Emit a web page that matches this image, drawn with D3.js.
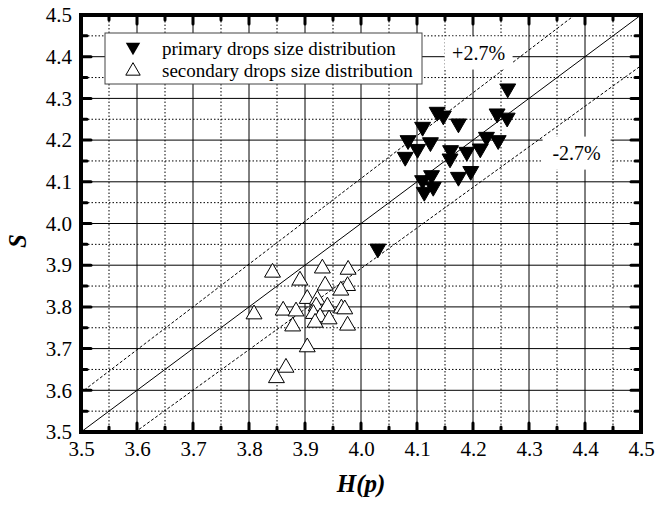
<!DOCTYPE html>
<html><head><meta charset="utf-8">
<script src="https://cdn.jsdelivr.net/npm/d3@7"></script>
<style>body{margin:0;background:#fff}svg{display:block}</style>
</head><body>
<script>
const xTicks = [3.5,3.6,3.7,3.8,3.9,4.0,4.1,4.2,4.3,4.4,4.5];
const yTicks = [3.5,3.6,3.7,3.8,3.9,4.0,4.1,4.2,4.3,4.4,4.5];
const primaryX = [4.262,4.136,4.147,4.174,4.243,4.261,4.110,4.084,4.124,4.101,4.079,4.224,4.245,4.213,4.189,4.160,4.159,4.196,4.174,4.126,4.110,4.129,4.113,4.030];
const primaryY = [4.320,4.264,4.255,4.236,4.260,4.250,4.228,4.196,4.191,4.175,4.156,4.204,4.196,4.176,4.168,4.172,4.152,4.122,4.108,4.112,4.100,4.084,4.072,3.936];
const secondaryX = [3.842,3.931,3.977,3.891,3.936,3.976,3.964,3.904,3.922,3.920,3.940,3.965,3.971,3.861,3.884,3.809,3.915,3.927,3.943,3.918,3.878,3.976,3.904,3.866,3.849];
const secondaryY = [3.886,3.896,3.893,3.867,3.855,3.854,3.843,3.823,3.821,3.805,3.805,3.800,3.798,3.795,3.793,3.786,3.787,3.779,3.774,3.766,3.757,3.759,3.707,3.658,3.633];
const bandFactors = [1.027, 0.973];
const bandLabels = ["+2.7%", "-2.7%"];
const legendLabels = ["primary drops size distribution", "secondary drops size distribution"];

const FONT = "Liberation Serif";
const W = 656, H = 508;
const svg = d3.select("body").append("svg").attr("width", W).attr("height", H)
  .attr("font-family", FONT);
const x = d3.scaleLinear().domain([3.5,4.5]).range([81,641]);
const y = d3.scaleLinear().domain([3.5,4.5]).range([432,15]);
const x0 = x.range()[0], x1 = x.range()[1], y0 = y.range()[0], y1 = y.range()[1];

svg.append("defs").append("clipPath").attr("id","clip")
  .append("rect").attr("x",x0).attr("y",y1).attr("width",x1-x0).attr("height",y0-y1);

const minor = d3.range(3.55, 4.5, 0.1);
const g = svg.append("g");
g.selectAll(".mvx").data(minor).join("line")
  .attr("x1",d=>x(d)).attr("x2",d=>x(d)).attr("y1",y0).attr("y2",y1)
  .attr("stroke","#000").attr("stroke-width",1).attr("stroke-dasharray","1.5,2");
g.selectAll(".mhy").data(minor).join("line")
  .attr("y1",d=>y(d)).attr("y2",d=>y(d)).attr("x1",x0).attr("x2",x1)
  .attr("stroke","#000").attr("stroke-width",1).attr("stroke-dasharray","1.5,2");
g.selectAll(".vx").data(xTicks).join("line")
  .attr("x1",d=>x(d)).attr("x2",d=>x(d)).attr("y1",y0).attr("y2",y1)
  .attr("stroke","#000").attr("stroke-width",1);
g.selectAll(".hy").data(yTicks).join("line")
  .attr("y1",d=>y(d)).attr("y2",d=>y(d)).attr("x1",x0).attr("x2",x1)
  .attr("stroke","#000").attr("stroke-width",1);

const lines = svg.append("g").attr("clip-path","url(#clip)");
const line = d3.line().x(d=>x(d[0])).y(d=>y(d[1]));
lines.append("path").attr("d", line([[3.5,3.5],[4.5,4.5]])).attr("stroke","#000").attr("stroke-width",1).attr("fill","none");
bandFactors.forEach(f=>{
  lines.append("path").attr("d", line([[3.3,3.3*f],[4.7,4.7*f]]))
    .attr("stroke","#000").attr("stroke-width",1).attr("fill","none").attr("stroke-dasharray","3,2");
});

const bandPos = [[4.21,4.41],[4.385,4.17]];
bandLabels.forEach((t,i)=>{
  const cx = x(bandPos[i][0]), cy = y(bandPos[i][1]);
  svg.append("rect").attr("x",cx-34).attr("y",cy-16).attr("width",68).attr("height",33).attr("fill","#fff");
  svg.append("text").attr("x",cx).attr("y",cy).attr("dy","0.35em").attr("text-anchor","middle")
    .attr("font-family",FONT).attr("font-size",20).text(t);
});

const tri = d3.symbol().type(d3.symbolTriangle).size(110);
svg.append("g").selectAll("path").data(secondaryX.map((v,i)=>[v,secondaryY[i]])).join("path")
  .attr("d",tri).attr("transform",d=>`translate(${x(d[0])},${y(d[1])+1.5})`)
  .attr("fill","#fff").attr("stroke","#000").attr("stroke-width",1);
svg.append("g").selectAll("path").data(primaryX.map((v,i)=>[v,primaryY[i]])).join("path")
  .attr("d",tri).attr("transform",d=>`translate(${x(d[0])},${y(d[1])-1.5}) rotate(180)`)
  .attr("fill","#000").attr("stroke","#000").attr("stroke-width",1);

const lg = svg.append("g");
lg.append("rect").attr("x",105).attr("y",33).attr("width",317).attr("height",51)
  .attr("fill","#fff").attr("stroke","#444").attr("stroke-width",1);
const legSym = d3.symbol().type(d3.symbolTriangle).size(90);
lg.append("path").attr("d",legSym).attr("transform","translate(133,47) rotate(180)").attr("fill","#000");
lg.append("path").attr("d",legSym).attr("transform","translate(133,71)").attr("fill","#fff").attr("stroke","#000");
legendLabels.forEach((t,i)=>{
  lg.append("text").attr("x",162).attr("y",48+i*22).attr("dy","0.35em")
    .attr("font-family",FONT).attr("font-size",19).text(t);
});

const fr = svg.append("g").attr("stroke","#000").attr("stroke-width",3).attr("stroke-linecap","round");
xTicks.slice(1,-1).forEach(v=>{
  fr.append("line").attr("x1",x(v)).attr("x2",x(v)).attr("y1",y0).attr("y2",y0-9);
  fr.append("line").attr("x1",x(v)).attr("x2",x(v)).attr("y1",y1).attr("y2",y1+9);
});
minor.forEach(v=>{
  fr.append("line").attr("x1",x(v)).attr("x2",x(v)).attr("y1",y0).attr("y2",y0-5);
  fr.append("line").attr("x1",x(v)).attr("x2",x(v)).attr("y1",y1).attr("y2",y1+5);
  fr.append("line").attr("y1",y(v)).attr("y2",y(v)).attr("x1",x0).attr("x2",x0+6);
  fr.append("line").attr("y1",y(v)).attr("y2",y(v)).attr("x1",x1).attr("x2",x1-6);
});
yTicks.slice(1,-1).forEach(v=>{
  fr.append("line").attr("y1",y(v)).attr("y2",y(v)).attr("x1",x0).attr("x2",x0+10);
  fr.append("line").attr("y1",y(v)).attr("y2",y(v)).attr("x1",x1).attr("x2",x1-10);
});
svg.append("rect").attr("x",x0).attr("y",y1).attr("width",x1-x0).attr("height",y0-y1)
  .attr("fill","none").attr("stroke","#000").attr("stroke-width",4);

const xAxis = d3.axisBottom(x).tickValues(xTicks).tickFormat(d3.format(".1f")).tickSize(0).tickPadding(9);
const xa = svg.append("g").attr("transform",`translate(0,${y0})`).call(xAxis);
const yAxis = d3.axisLeft(y).tickValues(yTicks).tickFormat(d3.format(".1f")).tickSize(0).tickPadding(9);
const ya = svg.append("g").attr("transform",`translate(${x0},0)`).call(yAxis);
[xa,ya].forEach(a=>{
  a.select(".domain").remove();
  a.attr("font-family",FONT).attr("font-size",21);
  a.selectAll("text").attr("font-family",FONT).attr("font-size",21).attr("fill","#000");
});

svg.append("text").attr("x",361).attr("y",492).attr("text-anchor","middle")
  .attr("font-family",FONT).attr("font-size",25).attr("font-weight","bold").attr("font-style","italic").text("H(p)");
svg.append("text").attr("transform","translate(26,241) rotate(-90)").attr("text-anchor","middle")
  .attr("font-family",FONT).attr("font-size",25).attr("font-weight","bold").attr("font-style","italic").text("S");
</script>
</body></html>
